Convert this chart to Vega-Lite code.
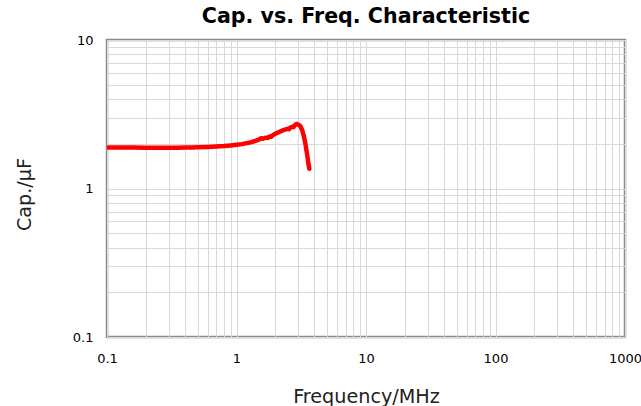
{
  "$schema": "https://vega.github.io/schema/vega-lite/v6.json",
  "autosize": "none",
  "width": 518,
  "height": 297,
  "padding": {"left": 107, "top": 40, "right": 16, "bottom": 69},
  "background": "white",
  "title": {"text": "Cap. vs. Freq. Characteristic", "font": "DejaVu Sans", "fontSize": 20.6, "fontWeight": "bold", "color": "#000000", "anchor": "middle", "frame": "group", "offset": 6},
  "config": {
    "view": {"stroke": "#8c8c8c", "strokeWidth": 2.5},
    "axis": {"gridColor": "#d9d9d9", "gridWidth": 1, "gridOpacity": 1, "ticks": false, "domain": false, "labelFont": "DejaVu Sans", "labelFontSize": 13, "labelColor": "#000000", "titleFont": "DejaVu Sans", "titleFontSize": 19.2, "titleFontWeight": "normal", "titleColor": "#222222", "labelOverlap": false, "labelFlush": false}
  },
  "data": {"values": [
    {"f": 0.1, "c": 1.89},
    {"f": 0.13, "c": 1.887},
    {"f": 0.16, "c": 1.885},
    {"f": 0.2, "c": 1.883},
    {"f": 0.25, "c": 1.882},
    {"f": 0.3, "c": 1.882},
    {"f": 0.35, "c": 1.884},
    {"f": 0.4, "c": 1.887},
    {"f": 0.45, "c": 1.891},
    {"f": 0.5, "c": 1.896},
    {"f": 0.6, "c": 1.905},
    {"f": 0.7, "c": 1.918},
    {"f": 0.8, "c": 1.932},
    {"f": 0.9, "c": 1.95},
    {"f": 1.0, "c": 1.97},
    {"f": 1.1, "c": 1.99},
    {"f": 1.2, "c": 2.02},
    {"f": 1.3, "c": 2.05},
    {"f": 1.4, "c": 2.09},
    {"f": 1.5, "c": 2.14},
    {"f": 1.55, "c": 2.18},
    {"f": 1.6, "c": 2.16},
    {"f": 1.65, "c": 2.19},
    {"f": 1.7, "c": 2.2},
    {"f": 1.75, "c": 2.19},
    {"f": 1.8, "c": 2.24},
    {"f": 1.85, "c": 2.23},
    {"f": 1.9, "c": 2.28},
    {"f": 2.0, "c": 2.34},
    {"f": 2.1, "c": 2.39},
    {"f": 2.2, "c": 2.43},
    {"f": 2.3, "c": 2.47},
    {"f": 2.4, "c": 2.5},
    {"f": 2.5, "c": 2.53},
    {"f": 2.55, "c": 2.51},
    {"f": 2.6, "c": 2.57},
    {"f": 2.7, "c": 2.6},
    {"f": 2.75, "c": 2.59},
    {"f": 2.8, "c": 2.65},
    {"f": 2.9, "c": 2.72},
    {"f": 3.0, "c": 2.69},
    {"f": 3.1, "c": 2.64},
    {"f": 3.2, "c": 2.5},
    {"f": 3.3, "c": 2.28},
    {"f": 3.4, "c": 2.02},
    {"f": 3.5, "c": 1.72},
    {"f": 3.6, "c": 1.45},
    {"f": 3.65, "c": 1.36}
  ]},
  "mark": {"type": "line", "color": "#ff0000", "strokeWidth": 4.5, "strokeCap": "round", "strokeJoin": "round", "clip": true},
  "encoding": {
    "x": {"field": "f", "type": "quantitative",
      "scale": {"type": "log", "domain": [0.1, 1000], "nice": false},
      "axis": {"title": "Frequency/MHz", "values": [0.1,0.2,0.3,0.4,0.5,0.6,0.7,0.8,0.9,1,2,3,4,5,6,7,8,9,10,20,30,40,50,60,70,80,90,100,200,300,400,500,600,700,800,900,1000],
        "labelExpr": "datum.value == 0.1 ? '0.1' : datum.value == 1 ? '1' : datum.value == 10 ? '10' : datum.value == 100 ? '100' : datum.value == 1000 ? '1000' : ''",
        "labelPadding": 15, "titleY": 65, "titleBaseline": "alphabetic"}},
    "y": {"field": "c", "type": "quantitative",
      "scale": {"type": "log", "domain": [0.1, 10], "nice": false},
      "axis": {"title": "Cap./μF", "values": [0.1,0.2,0.3,0.4,0.5,0.6,0.7,0.8,0.9,1,2,3,4,5,6,7,8,9,10],
        "labelExpr": "datum.value == 0.1 ? '0.1' : datum.value == 1 ? '1' : datum.value == 10 ? '10' : ''",
        "labelPadding": 14, "titleX": -77, "titleY": 154, "titleBaseline": "alphabetic", "titleAlign": "center"}}
  }
}
